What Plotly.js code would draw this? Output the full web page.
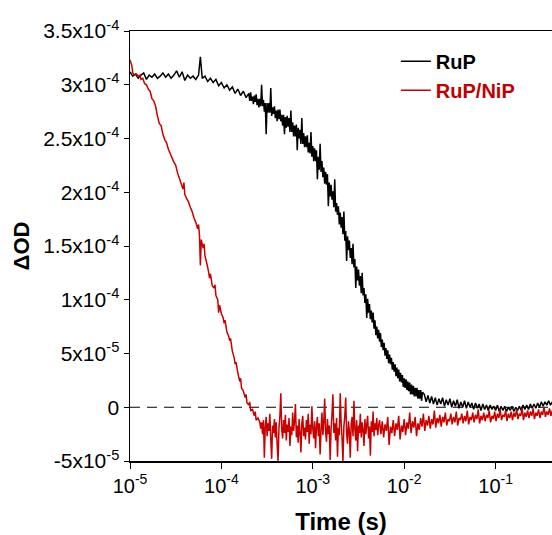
<!DOCTYPE html>
<html><head><meta charset="utf-8">
<script src="https://cdn.plot.ly/plotly-3.0.1.min.js"></script>
<style>html,body{margin:0;padding:0;background:#fff;}#chart{width:552px;height:535px;}</style>
</head><body><div id="chart"></div>
<script>
// Each point: [log10(time / s), ΔOD in units of 1e-6]
const rupPoints = [
[-5.00,312],[-4.97,308],[-4.94,310],[-4.91,306],[-4.88,309],[-4.85,311],[-4.82,305],[-4.79,309],[-4.76,307],[-4.73,310],
[-4.70,306],[-4.67,308],[-4.64,311],[-4.61,307],[-4.58,310],[-4.55,306],[-4.52,309],[-4.49,313],[-4.46,307],[-4.43,312],
[-4.40,304],[-4.37,309],[-4.34,306],[-4.31,308],[-4.28,305],[-4.25,309],[-4.23,326],[-4.21,306],[-4.18,308],[-4.15,303],
[-4.12,306],[-4.09,302],[-4.06,305],[-4.03,299],[-4.00,302],[-3.97,297],[-3.94,300],[-3.91,295],[-3.88,298],[-3.85,292],
[-3.82,296],[-3.79,290],[-3.76,294],[-3.73,288],
[-3.70,292],[-3.69,285],[-3.68,293],[-3.67,285],[-3.66,289],[-3.65,282],[-3.64,290],[-3.63,284],[-3.62,291],[-3.61,281],
[-3.60,287],[-3.59,279],[-3.58,287],[-3.57,280],[-3.56,300],[-3.55,280],[-3.54,286],[-3.53,275],[-3.52,283],[-3.51,254],
[-3.50,283],[-3.49,274],[-3.48,283],[-3.47,274],[-3.46,297],[-3.45,271],[-3.44,279],[-3.43,273],[-3.42,280],[-3.41,269],
[-3.40,276],[-3.39,266],[-3.38,277],[-3.37,268],[-3.36,277],[-3.35,266],[-3.34,272],[-3.33,262],[-3.32,272],[-3.31,254],
[-3.30,270],[-3.29,260],[-3.28,271],[-3.27,261],[-3.26,269],[-3.25,256],[-3.24,276],[-3.23,256],[-3.22,265],[-3.21,252],
[-3.20,262],[-3.19,252],[-3.18,263],[-3.17,239],[-3.16,260],[-3.15,250],[-3.14,258],[-3.13,245],[-3.12,269],[-3.11,245],
[-3.10,255],[-3.09,242],[-3.08,252],[-3.07,242],[-3.06,253],[-3.05,237],[-3.04,246],[-3.03,236],[-3.02,256],[-3.01,233],
[-3.00,243],[-2.99,229],[-2.98,241],[-2.97,229],[-2.96,239],[-2.95,212],[-2.94,233],[-2.93,221],[-2.92,245],[-2.91,219],
[-2.90,229],[-2.89,214],[-2.88,223],[-2.87,208],[-2.86,219],[-2.85,207],[-2.84,217],[-2.83,187],[-2.82,209],[-2.81,196],
[-2.80,207],[-2.79,193],[-2.78,201],[-2.77,186],[-2.76,212],[-2.75,182],[-2.74,190],[-2.73,179],[-2.72,187],[-2.71,170],
[-2.70,181],[-2.69,167],[-2.68,177],[-2.67,161],[-2.66,182],[-2.65,155],[-2.64,164],[-2.63,136],[-2.62,159],[-2.61,146],
[-2.60,155],[-2.59,139],[-2.58,148],[-2.57,133],[-2.56,152],[-2.55,130],[-2.54,138],[-2.53,111],[-2.52,131],[-2.51,118],
[-2.50,128],[-2.49,113],[-2.48,122],[-2.47,106],[-2.46,125],[-2.45,104],[-2.44,111],[-2.43,97],[-2.42,105],[-2.41,83],
[-2.40,101],[-2.39,88],[-2.38,96],[-2.37,82],[-2.36,90],[-2.35,79],[-2.34,88],[-2.33,73],[-2.32,81],[-2.31,67],
[-2.30,75],[-2.29,64],[-2.28,72],[-2.27,61],[-2.26,69],[-2.25,56],[-2.24,63],[-2.23,53],[-2.22,60],[-2.21,48],
[-2.20,55],[-2.19,45],[-2.18,53],[-2.17,41],[-2.16,49],[-2.15,40],[-2.14,46],[-2.13,35],[-2.12,42],[-2.11,33],
[-2.10,40],[-2.09,29],[-2.08,37],[-2.07,27],[-2.06,35],[-2.05,24],[-2.04,32],[-2.03,23],[-2.02,30],[-2.01,19],
[-2.00,27],[-1.99,18],[-1.98,26],[-1.97,16],[-1.96,24],[-1.95,15],[-1.94,23],[-1.93,12],[-1.92,21],[-1.91,12],
[-1.90,20],[-1.89,10],[-1.88,18],[-1.87,10],[-1.86,18],[-1.85,8],[-1.84,16],[-1.83,8],[-1.82,16],[-1.81,6],
[-1.80,14],[-1.78,12],[-1.76,5],[-1.74,11],[-1.72,4],[-1.70,10],[-1.68,3],[-1.66,9],
[-1.64,2],[-1.62,8],[-1.60,3],[-1.58,9],[-1.56,1],[-1.54,7],[-1.52,2],[-1.50,8],[-1.48,0],[-1.46,6],
[-1.44,1],[-1.42,7],[-1.40,-1],[-1.38,5],[-1.36,0],[-1.34,6],[-1.32,-1],[-1.30,5],[-1.28,0],[-1.26,4],
[-1.24,-2],[-1.22,4],[-1.20,-1],[-1.18,3],[-1.16,-3],[-1.14,3],[-1.12,-2],[-1.10,2],[-1.08,-3],[-1.06,2],
[-1.04,-2],[-1.02,1],[-1.00,-3],[-0.98,2],[-0.96,-4],[-0.94,1],[-0.92,-3],[-0.90,1],[-0.88,-4],[-0.86,0],
[-0.84,-3],[-0.82,1],[-0.80,-4],[-0.78,0],[-0.76,-3],[-0.74,1],[-0.72,-3],[-0.70,2],[-0.68,-2],[-0.66,2],
[-0.64,-2],[-0.62,3],[-0.60,-1],[-0.58,3],[-0.56,-1],[-0.54,4],[-0.52,0],[-0.50,5],[-0.48,1],[-0.46,5],
[-0.44,2],[-0.42,6],[-0.40,2],[-0.38,5]
];
const nipPoints = [
[-5.00,323],[-4.98,318],[-4.97,311],[-4.95,309],[-4.93,310],[-4.91,308],[-4.89,309],[-4.88,305],[-4.86,306],[-4.84,301],
[-4.82,300],[-4.80,296],[-4.78,294],[-4.76,287],[-4.74,285],[-4.72,280],[-4.70,271],[-4.68,264],[-4.66,262],[-4.64,254],
[-4.62,249],[-4.60,246],[-4.58,240],[-4.56,236],[-4.54,232],[-4.52,228],[-4.50,225],[-4.48,218],[-4.46,213],[-4.44,208],
[-4.42,203],[-4.41,209],[-4.40,198],[-4.38,194],[-4.36,191],[-4.34,186],[-4.32,182],[-4.30,176],[-4.28,172],[-4.26,166],
[-4.25,170],[-4.24,160],[-4.23,132],[-4.22,156],[-4.20,148],[-4.19,152],[-4.18,141],[-4.16,134],[-4.14,126],[-4.13,120],
[-4.12,124],[-4.10,113],[-4.08,111],[-4.07,114],[-4.06,104],[-4.04,100],[-4.03,88],[-4.02,95],[-4.00,87],[-3.98,83],
[-3.97,78],[-3.96,81],[-3.94,70],[-3.92,66],[-3.91,62],[-3.90,64],[-3.88,52],[-3.86,46],[-3.85,40],[-3.84,42],
[-3.82,32],[-3.80,24],[-3.79,27],[-3.78,18],[-3.76,15],[-3.74,9],[-3.73,12],[-3.72,4],[-3.70,2],[-3.69,5],
[-3.68,-3],[-3.66,-2],[-3.64,-8],[-3.63,-4],[-3.62,-12],[-3.60,-10],[-3.58,-14],[-3.57,-20],
[-3.56,-14],[-3.55,-25],[-3.54,-12],[-3.53,-47],[-3.52,-18],[-3.51,-9],[-3.50,-27],[-3.49,-15],[-3.48,-22],[-3.47,-6],
[-3.46,-30],[-3.45,-48],[-3.44,-17],[-3.43,-24],[-3.42,-11],[-3.41,-28],[-3.40,-14],[-3.39,-35],[-3.38,-50],[-3.37,-19],
[-3.36,-8],[-3.35,13],[-3.34,-21],[-3.33,-29],[-3.32,-12],[-3.31,-24],[-3.30,-7],[-3.29,-31],[-3.28,-16],[-3.27,-23],
[-3.26,-10],[-3.25,-36],[-3.24,-18],[-3.23,-26],[-3.22,-5],[-3.21,-22],[-3.20,-13],[-3.19,3],[-3.18,-28],[-3.17,-17],
[-3.16,-33],[-3.15,-11],[-3.14,-24],[-3.13,-42],[-3.12,-15],[-3.11,-8],[-3.10,-27],[-3.09,-19],[-3.08,-30],[-3.07,-12],
[-3.06,-23],[-3.05,-6],[-3.04,-34],[-3.03,-16],[-3.02,-25],[-3.01,1],[-3.00,-20],[-2.99,-29],[-2.98,-13],[-2.97,-38],
[-2.96,-18],[-2.95,-9],[-2.94,-27],[-2.93,-15],[-2.92,-44],[-2.91,-21],[-2.90,-5],[-2.89,-26],[-2.88,-14],[-2.87,8],
[-2.86,-23],[-2.85,-32],[-2.84,-11],[-2.83,-25],[-2.82,-17],[-2.81,-49],[-2.80,-20],[-2.79,-7],[-2.78,12],[-2.77,-24],
[-2.76,-15],[-2.75,-31],[-2.74,-10],[-2.73,-46],[-2.72,-19],[-2.71,-26],[-2.70,13],[-2.69,-14],[-2.68,-29],[-2.67,-50],
[-2.66,-18],[-2.65,-8],[-2.64,9],[-2.63,-25],[-2.62,-34],[-2.61,-13],[-2.60,-22],[-2.59,-47],[-2.58,-16],[-2.57,-9],
[-2.56,-27],[-2.55,6],[-2.54,-20],[-2.53,-31],[-2.52,-12],[-2.51,-41],[-2.50,-17],[-2.49,-24],[-2.48,-6],[-2.47,-28],
[-2.46,-14],[-2.45,-21],[-2.44,-36],[-2.43,-11],[-2.42,-25],[-2.41,-16],[-2.40,-8],[-2.39,-29],[-2.38,-18],[-2.37,-45],
[-2.36,-13],[-2.35,-23],[-2.34,-4],[-2.33,-27],[-2.32,-15],[-2.31,-21],[-2.30,-10],[-2.29,-26],[-2.28,-17],[-2.27,-12],
[-2.255,-25],[-2.24,-13],[-2.225,-28],[-2.21,-16],[-2.195,-22],[-2.18,-9],[-2.165,-35],[-2.15,-18],[-2.135,-24],[-2.12,-12],
[-2.105,-27],[-2.09,-15],[-2.075,-21],[-2.06,-8],[-2.045,-30],[-2.03,-17],[-2.015,-23],[-2.00,-11],[-1.985,-26],[-1.97,-14],
[-1.955,-20],[-1.94,-5],[-1.925,-24],[-1.91,-13],[-1.895,-19],[-1.88,-9],[-1.865,-27],[-1.85,-15],[-1.835,-21],[-1.82,-10],
[-1.805,-18],[-1.79,-6],[-1.775,-22],[-1.76,-12],[-1.745,-17],[-1.73,-8],[-1.715,-20],[-1.70,-11],[-1.685,-16],[-1.67,-3],
[-1.655,-19],[-1.64,-10],[-1.625,-15],[-1.61,-7],[-1.595,-18],[-1.58,-9],[-1.565,-14],[-1.55,-5],[-1.535,-17],[-1.52,-11],
[-1.505,-13],[-1.49,-6],[-1.475,-16],[-1.46,-9],[-1.445,-14],[-1.43,-4],[-1.415,-17],[-1.40,-10],[-1.385,-12],[-1.37,-6],
[-1.355,-15],[-1.34,-8],[-1.325,-13],[-1.31,-3],[-1.295,-16],[-1.28,-9],[-1.265,-12],[-1.25,-5],[-1.235,-14],[-1.22,-7],
[-1.205,-11],[-1.19,-2],[-1.175,-15],[-1.16,-8],[-1.145,-12],[-1.13,-5],[-1.115,-13],[-1.10,-7],[-1.085,-10],[-1.07,-3],
[-1.055,-14],[-1.04,-8],[-1.025,-11],[-1.01,-4],[-0.995,-13],[-0.98,-6],[-0.965,-10],[-0.95,-2],[-0.935,-12],[-0.92,-7],
[-0.905,-9],[-0.89,-3],[-0.875,-13],[-0.86,-6],[-0.845,-10],[-0.83,-4],[-0.815,-12],[-0.80,-5],[-0.785,-9],[-0.77,-2],
[-0.755,-11],[-0.74,-6],[-0.725,-8],[-0.71,-1],[-0.695,-12],[-0.68,-5],[-0.665,-9],[-0.65,-3],[-0.635,-10],[-0.62,-4],
[-0.605,-8],[-0.59,-1],[-0.575,-11],[-0.56,-5],[-0.545,-8],[-0.53,-2],[-0.515,-10],[-0.50,-4],[-0.485,-7],[-0.47,0],
[-0.455,-9],[-0.44,-4],[-0.425,-7],[-0.41,-1],[-0.395,-8],[-0.38,-3]
];
const seriesNames = ['RuP', 'RuP/NiP'];
const xTickVals = [1e-5, 1e-4, 1e-3, 1e-2, 1e-1];
const xTickText = ['10<sup>-5</sup>', '10<sup>-4</sup>', '10<sup>-3</sup>', '10<sup>-2</sup>', '10<sup>-1</sup>'];
const yTickVals = [-50, 0, 50, 100, 150, 200, 250, 300, 350];
const yTickText = ['-5x10<sup>-5</sup>', '0', '5x10<sup>-5</sup>', '1x10<sup>-4</sup>', '1.5x10<sup>-4</sup>',
  '2x10<sup>-4</sup>', '2.5x10<sup>-4</sup>', '3x10<sup>-4</sup>', '3.5x10<sup>-4</sup>'];

const toX = pts => pts.map(p => Math.pow(10, p[0]));
const toY = pts => pts.map(p => p[1]);

const traces = [
  {x: toX(rupPoints), y: toY(rupPoints), type: 'scatter', mode: 'lines',
   name: '<b>' + seriesNames[0] + '</b>', line: {color: '#000000', width: 1.5, simplify: false}},
  {x: toX(nipPoints), y: toY(nipPoints), type: 'scatter', mode: 'lines',
   name: '<b><span style="color:#c00000">' + seriesNames[1] + '</span></b>', line: {color: '#c80000', width: 1.5, simplify: false}}
];

const fontFam = 'Arial, "Liberation Sans", sans-serif';
const layout = {
  width: 552, height: 535,
  margin: {l: 130, r: 0, t: 31, b: 74, pad: 0},
  paper_bgcolor: '#ffffff', plot_bgcolor: '#ffffff',
  font: {family: fontFam, color: '#000000'},
  showlegend: true,
  legend: {x: 0.63, y: 0.975, xanchor: 'left', yanchor: 'top', bgcolor: 'rgba(0,0,0,0)',
           font: {size: 20, family: fontFam, color: '#000000'}, tracegroupgap: 0},
  xaxis: {type: 'log', range: [-5, -0.383], tickmode: 'array', tickvals: xTickVals, ticktext: xTickText,
          ticks: 'outside', ticklen: 6, tickwidth: 1, tickcolor: '#000', showline: true, linecolor: '#000',
          linewidth: 1.5, mirror: true, showgrid: false, zeroline: false, tickfont: {size: 20},
          title: {text: '<b>Time (s)</b>', font: {size: 24}}},
  yaxis: {range: [-50, 350], tickmode: 'array', tickvals: yTickVals, ticktext: yTickText,
          ticks: 'outside', ticklen: 5, tickwidth: 1, tickcolor: '#000', showline: true, linecolor: '#000',
          linewidth: 1.5, mirror: false, showgrid: false, zeroline: false, tickfont: {size: 21},
          title: {text: '<b>ΔOD</b>', font: {size: 22}, standoff: 7}},
  shapes: [{type: 'line', xref: 'paper', x0: 0, x1: 1, yref: 'y', y0: 0, y1: 0, layer: 'below',
            line: {color: '#000', width: 1, dash: '10px,7px'}}]
};
Plotly.newPlot('chart', traces, layout, {displayModeBar: false, staticPlot: true});
</script>
</body></html>
